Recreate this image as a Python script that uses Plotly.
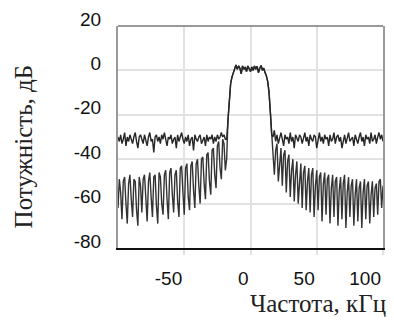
import plotly.graph_objects as go

# frequency grid, kHz
freq_khz = list(range(-100, 101))

# passband shared by both spectra, x = -17 .. 16
passband_db = [-22, -12, -6, -3, -1, 1.5, 2.5, 0.5, 2, 1, -1.5, 2, 0.5, 1.5, -0.5, 2, 1,
               -0.5, 1.5, 0, 2, 0.5, 1.8, -1, 1, 2.2, 0, 1, -1, -2.5, -5, -10, -19, -29]

# spectrum with flat noise floor: x = -100 .. -18 and 17 .. 100
noise_left_db = [-30, -32, -29, -33, -31, -28, -34, -30, -32, -29,
                 -31, -33, -30, -28, -32, -35, -30, -29, -31, -33,
                 -29, -31, -34, -30, -28, -32, -31, -37, -30, -29,
                 -32, -30, -33, -29, -31, -28, -32, -34, -30, -31,
                 -29, -33, -31, -30, -35, -29, -32, -30, -28, -31,
                 -33, -30, -32, -29, -34, -31, -30, -36, -29, -31,
                 -32, -30, -29, -33, -31, -30, -34, -29, -32, -30,
                 -31, -29, -33, -30, -32, -29, -31, -30, -28, -30,
                 -29, -31, -31]
noise_right_db = [-30, -27, -32, -29, -33, -30, -28, -31, -34, -29,
                  -31, -30, -33, -28, -32, -30, -35, -29, -31, -32,
                  -29, -30, -33, -31, -28, -32, -30, -34, -29, -31,
                  -32, -29, -30, -35, -31, -28, -32, -30, -33, -29,
                  -31, -30, -34, -29, -32, -31, -28, -33, -30, -29,
                  -32, -30, -35, -31, -29, -33, -30, -28, -32, -31,
                  -30, -34, -29, -31, -33, -30, -28, -32, -30, -34,
                  -29, -31, -30, -33, -28, -32, -31, -29, -33, -30,
                  -28, -31, -29, -32]

# spectrum with decaying sidelobes: x = -100 .. -18 and 17 .. 100
lobes_left_db = [-62, -49, -55, -67, -50, -48, -60, -69, -51, -47,
                 -58, -66, -49, -50, -63, -70, -48, -52, -64, -49,
                 -47, -59, -68, -50, -46, -57, -66, -48, -47, -61,
                 -69, -46, -48, -60, -65, -47, -45, -58, -67, -46,
                 -44, -56, -64, -47, -45, -59, -66, -44, -43, -55,
                 -65, -44, -42, -57, -63, -43, -41, -54, -62, -42,
                 -40, -52, -60, -40, -39, -51, -58, -38, -37, -50,
                 -56, -36, -35, -47, -53, -34, -32, -44, -49, -31,
                 -33, -45, -40]
lobes_right_db = [-34, -47, -36, -33, -50, -44, -35, -52, -38, -36,
                  -55, -41, -38, -57, -45, -40, -59, -47, -41, -60,
                  -49, -42, -62, -46, -43, -63, -50, -44, -64, -47,
                  -44, -66, -52, -45, -63, -48, -46, -68, -51, -46,
                  -65, -49, -47, -69, -53, -47, -66, -50, -48, -70,
                  -54, -48, -67, -51, -47, -71, -55, -48, -66, -52,
                  -49, -70, -56, -49, -68, -53, -50, -71, -55, -49,
                  -67, -52, -50, -69, -56, -50, -66, -53, -51, -65,
                  -50, -49, -62, -52]

y_ticks = [-80, -60, -40, -20, 0, 20]
x_ticks = [-50, 0, 50, 100]
x_title = "Частота, кГц"
y_title = "Потужність, дБ"

noise_db = noise_left_db + passband_db + noise_right_db
lobes_db = lobes_left_db + passband_db + lobes_right_db

num_font = dict(family="Liberation Sans, Arial, sans-serif", size=19, color="#111")
serif = dict(family="Liberation Serif, Times New Roman, serif", size=25, color="#222")

fig = go.Figure()
fig.add_trace(go.Scatter(x=freq_khz, y=lobes_db, mode="lines",
                         line=dict(color="#333333", width=1.4), showlegend=False))
fig.add_trace(go.Scatter(x=freq_khz, y=noise_db, mode="lines",
                         line=dict(color="#262626", width=1.4), showlegend=False))

fig.update_layout(
    width=394, height=320,
    margin=dict(l=118, r=9, t=22, b=72),
    paper_bgcolor="white", plot_bgcolor="white",
    xaxis=dict(range=[-100, 100], tickvals=x_ticks, ticktext=[str(v) for v in x_ticks],
               showgrid=True, gridcolor="#e2e2e2", gridwidth=2, zeroline=False,
               showline=True, linecolor="#111", linewidth=2,
               ticks="outside", ticklen=5, tickcolor="#e2e2e2", tickwidth=2,
               ticklabelposition="outside left", ticklabelstandoff=12,
               tickfont=num_font),
    yaxis=dict(range=[-80, 20], tickvals=y_ticks, ticktext=[str(v) for v in y_ticks],
               showgrid=True, gridcolor="#e2e2e2", gridwidth=2, zeroline=False,
               showline=True, linecolor="#9a9a9a", linewidth=2, mirror=True,
               ticks="", ticklabelposition="outside", ticklabelshift=-7,
               ticklabelstandoff=11, tickfont=num_font),
    shapes=[dict(type="line", xref="paper", yref="paper", x0=0, x1=1, y0=1, y1=1,
                 line=dict(color="#9a9a9a", width=2))],
    annotations=[
        dict(text=y_title, xref="paper", yref="paper", x=-0.356, y=0.456,
             xanchor="center", yanchor="middle", textangle=-90, showarrow=False, font=serif),
        dict(text=x_title, xref="paper", yref="paper", x=1.019, y=-0.318,
             xanchor="right", yanchor="bottom", showarrow=False, font=serif),
    ],
)

fig.write_html("out.html")
